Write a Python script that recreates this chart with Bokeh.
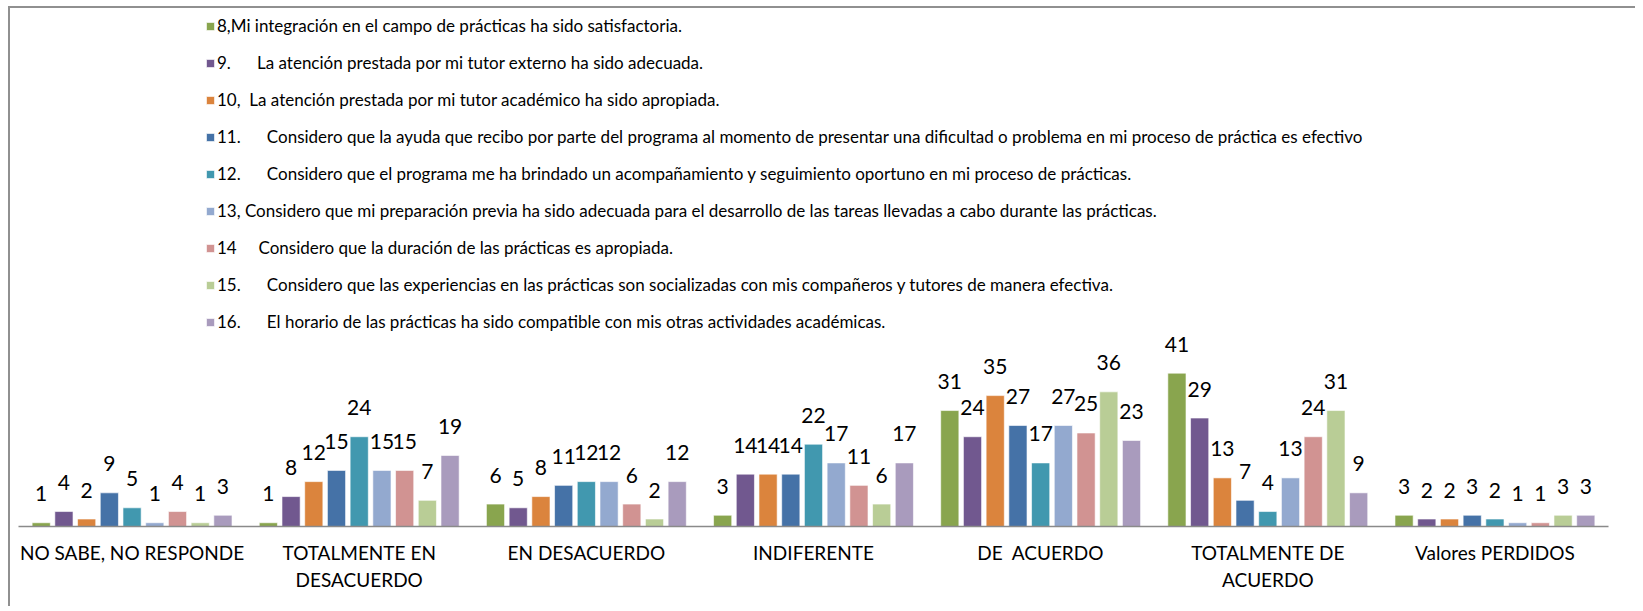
from bokeh.plotting import figure
from bokeh.models import ColumnDataSource, FactorRange, Range1d, Legend, LegendItem
from bokeh.transform import dodge
from bokeh.core.properties import value
from bokeh.embed import file_html
from bokeh.resources import INLINE

NB = "\u00a0"

categories = [
    "NO SABE, NO RESPONDE",
    "TOTALMENTE EN\nDESACUERDO",
    "EN DESACUERDO",
    "INDIFERENTE",
    "DE\u00a0 ACUERDO",
    "TOTALMENTE DE\nACUERDO",
    "Valores PERDIDOS",
]

series_names = [
    "8,Mi integración en el campo de prácticas ha sido satisfactoria.",
    "9." + NB * 6 + "La atención prestada por mi tutor externo ha sido adecuada.",
    "10," + NB * 2 + "La atención prestada por mi tutor académico ha sido apropiada.",
    "11." + NB * 6 + "Considero que la ayuda que recibo por parte del programa al momento de presentar una dificultad o problema en mi proceso de práctica es efectivo",
    "12." + NB * 6 + "Considero que el programa me ha brindado un acompañamiento y seguimiento oportuno en mi proceso de prácticas.",
    "13, Considero que mi preparación previa ha sido adecuada para el desarrollo de las tareas llevadas a cabo durante las prácticas.",
    "14" + NB * 5 + "Considero que la duración de las prácticas es apropiada.",
    "15." + NB * 6 + "Considero que las experiencias en las prácticas son socializadas con mis compañeros y tutores de manera efectiva.",
    "16." + NB * 6 + "El horario de las prácticas ha sido compatible con mis otras actividades académicas.",
]

q8 = [1, 1, 6, 3, 31, 41, 3]
q9 = [4, 8, 5, 14, 24, 29, 2]
q10 = [2, 12, 8, 14, 35, 13, 2]
q11 = [9, 15, 11, 14, 27, 7, 3]
q12 = [5, 24, 12, 22, 17, 4, 2]
q13 = [1, 15, 12, 17, 27, 13, 1]
q14 = [4, 15, 6, 11, 25, 24, 1]
q15 = [1, 7, 2, 6, 36, 31, 3]
q16 = [3, 19, 12, 17, 23, 9, 3]

series = [q8, q9, q10, q11, q12, q13, q14, q15, q16]
keys = ["q8", "q9", "q10", "q11", "q12", "q13", "q14", "q15", "q16"]
colors = ["#89A54E", "#71588F", "#DB843D", "#4572A7", "#4198AF",
          "#93A9CF", "#D19392", "#B9CD96", "#A99BBD"]

data = {"cat": categories}
for k, s in zip(keys, series):
    data[k] = s
    data[k + "_lbl"] = [str(v) for v in s]
source = ColumnDataSource(data)

FONT = "Lato"

p = figure(
    width=1627, height=600,
    x_range=FactorRange(*categories, range_padding=0),
    y_range=Range1d(0, 138.5),
    y_axis_location=None,
    output_backend="svg", toolbar_location=None,
    min_border_left=8, min_border_right=29, min_border_top=0, min_border_bottom=82,
)
p.outline_line_color = None
p.xgrid.visible = False
p.ygrid.visible = False
p.background_fill_color = "white"
p.border_fill_color = "white"

step = 0.1
bw = 0.08
items = []
for i, (k, c, name) in enumerate(zip(keys, colors, series_names)):
    off = (i - 4) * step
    r = p.vbar(x=dodge("cat", off, range=p.x_range), top=k, width=bw,
               source=source, fill_color=c, line_color="white", line_width=0.6)
    p.text(x=dodge("cat", off, range=p.x_range), y=k, text=k + "_lbl",
           source=source, text_align="center", text_baseline="alphabetic",
           y_offset=-29, text_font=value(FONT), text_font_size="21px",
           text_color="#000000")
    items.append(LegendItem(label=name, renderers=[r]))

legend = Legend(
    items=items, location=(187, 194), orientation="vertical",
    glyph_width=10, glyph_height=10, label_standoff=2,
    label_height=21, spacing=16, padding=0, margin=0,
    label_text_font=FONT, label_text_font_size="17px", label_text_color="#000000",
    border_line_color=None, background_fill_alpha=0,
)
p.add_layout(legend)

ax = p.xaxis[0]
ax.axis_line_color = "#8a8a8a"
ax.axis_line_width = 1.5
ax.major_tick_line_color = None
ax.minor_tick_line_color = None
ax.major_label_standoff = 8
ax.major_label_text_font = FONT
ax.major_label_text_font_size = "19px"
ax.major_label_text_color = "#000000"
ax.major_label_text_line_height = 1.2
ax.major_label_orientation = "horizontal"

p.styles = {"border-top": "2px solid #909090", "border-left": "2px solid #909090",
            "margin-left": "8px", "margin-top": "6px"}

open("out.html", "w").write(file_html(p, INLINE))
